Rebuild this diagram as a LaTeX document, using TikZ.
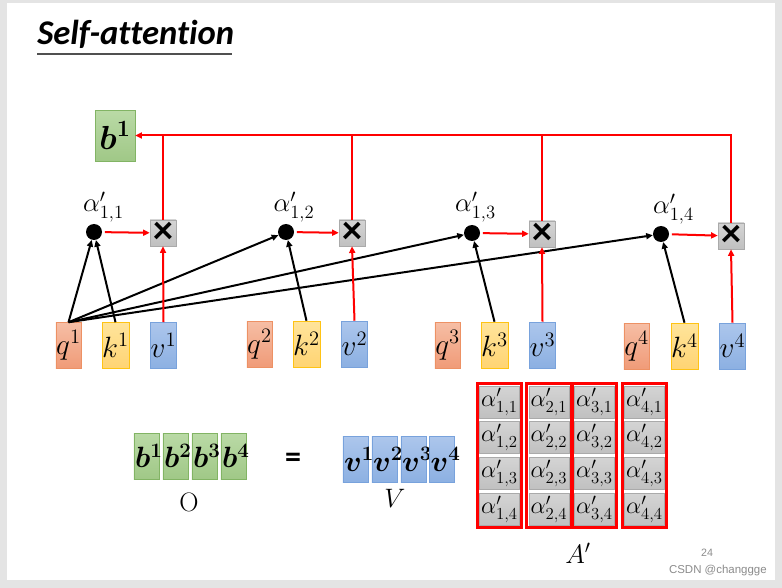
\RequirePackage{fix-cm}
\documentclass[tikz,border=0pt]{standalone}
\usepackage{amsmath}
\usepackage{bm}
\usepackage{fontspec}
\newfontfamily\titlefont[Ligatures=NoCommon]{Carlito}
\newfontfamily\notefont{Liberation Sans}
\usetikzlibrary{arrows.meta,fit}

\definecolor{pagegray}{RGB}{228,228,228}
\definecolor{qtop}{RGB}{246,190,165}
\definecolor{qbot}{RGB}{240,155,120}
\definecolor{qline}{RGB}{237,145,100}
\definecolor{ktop}{RGB}{255,228,155}
\definecolor{kbot}{RGB}{255,212,115}
\definecolor{kline}{RGB}{255,195,20}
\definecolor{vtop}{RGB}{172,198,236}
\definecolor{vbot}{RGB}{140,176,226}
\definecolor{vline}{RGB}{120,162,220}
\definecolor{btop}{RGB}{186,218,166}
\definecolor{bbot}{RGB}{160,200,135}
\definecolor{bline}{RGB}{130,180,100}
\definecolor{multop}{RGB}{212,212,212}
\definecolor{mulbot}{RGB}{192,192,192}
\definecolor{mulline}{RGB}{170,170,170}
\definecolor{noteclr}{RGB}{140,140,140}

\newcommand{\mathsz}{\fontsize{20}{24}\selectfont}
\newcommand{\boxsz}{\fontsize{22}{26}\selectfont}

\tikzset{
  qbox/.style={draw=qline, top color=qtop, bottom color=qbot, minimum width=19pt, minimum height=34.5pt, inner sep=0pt, font=\boxsz},
  kbox/.style={draw=kline, top color=ktop, bottom color=kbot, minimum width=19pt, minimum height=34.5pt, inner sep=0pt, font=\boxsz},
  vbox/.style={draw=vline, top color=vtop, bottom color=vbot, minimum width=19pt, minimum height=34.5pt, inner sep=0pt, font=\boxsz},
  bbox/.style={draw=bline, top color=btop, bottom color=bbot, minimum width=19pt, minimum height=34.5pt, inner sep=0pt, font=\boxsz},
  rowbox/.style={text width=17pt, inner xsep=1pt, align=left},
  mulbox/.style={draw=mulline, top color=multop, bottom color=mulbot, minimum size=19.5pt, inner sep=0pt, font=\titlefont\bfseries\fontsize{30}{30}\selectfont},
  dot/.style={circle, fill=black, minimum size=12pt, inner sep=0pt},
  cellbox/.style={draw=mulline, top color=multop, bottom color=mulbot, minimum width=30pt, minimum height=24pt, inner sep=0pt, font=\fontsize{18}{20}\selectfont},
  colbox/.style={draw=red, line width=2.2pt, inner sep=1.5pt},
  redline/.style={draw=red, line width=1.5pt},
  redarrow/.style={draw=red, line width=1.5pt, -{Triangle[length=5pt,width=4.5pt]}},
  blackarrow/.style={draw=black, line width=1.5pt, -{Triangle[length=5pt,width=4.5pt]}}
}

\begin{document}
\begin{tikzpicture}[x=0.75pt,y=0.75pt,yscale=-1,xscale=1]
\useasboundingbox (0,0) rectangle (782,588);

% slide
\fill[pagegray] (0,0) rectangle (782,588);
\fill[white] (7,3) rectangle (775,580);

% title
\node (title) at (37,45) [anchor=base west, inner sep=0pt, font=\titlefont\bfseries\itshape\fontsize{26}{30}\selectfont] {Self-attention};
\draw [line width=1.1pt, color={rgb,255:red,80;green,80;blue,80}] (37,54) -- (232,54);

% output
\node (b1) at (115,135.5) [bbox, minimum width=30pt, minimum height=38pt, font=\fontsize{25}{28}\selectfont] {$\bm{b}^{\bm{1}}$};

% weighted sum
\node (m1) at (163,233) [mulbox] {×};
\node (m2) at (352,233) [mulbox] {×};
\node (m3) at (542,234) [mulbox] {×};
\node (m4) at (731,236) [mulbox] {×};

\node (d1) at (94,232) [dot] {};
\node (d2) at (286,232) [dot] {};
\node (d3) at (472,233) [dot] {};
\node (d4) at (661,234) [dot] {};

\node (a1) at (103.5,207) [font=\mathsz] {$\alpha'_{1,1}$};
\node (a2) at (294,207) [font=\mathsz] {$\alpha'_{1,2}$};
\node (a3) at (475.5,207) [font=\mathsz] {$\alpha'_{1,3}$};
\node (a4) at (673.5,209) [font=\mathsz] {$\alpha'_{1,4}$};

% q k v
\node (q1) at (68.5,345.5) [qbox] {$q^1$};
\node (k1) at (115.5,345.5) [kbox] {$k^1$};
\node (v1) at (163.5,345.5) [vbox] {$v^1$};
\node (q2) at (259.5,344) [qbox] {$q^2$};
\node (k2) at (306.5,344) [kbox] {$k^2$};
\node (v2) at (354.5,344) [vbox] {$v^2$};
\node (q3) at (447.5,345) [qbox] {$q^3$};
\node (k3) at (494.5,345) [kbox] {$k^3$};
\node (v3) at (542.5,345) [vbox] {$v^3$};
\node (q4) at (636.5,346) [qbox] {$q^4$};
\node (k4) at (684.5,346) [kbox] {$k^4$};
\node (v4) at (732.5,346) [vbox] {$v^4$};

% attention
\draw [blackarrow] (q1.north) -- (d1);
\draw [blackarrow] (q1.north) -- (d2);
\draw [blackarrow] (q1.north) -- (d3);
\draw [blackarrow] (q1.north) -- (d4);
\draw [blackarrow] (k1.north) -- (d1);
\draw [blackarrow] (k2.north) -- (d2);
\draw [blackarrow] (k3.north) -- (d3);
\draw [blackarrow] (k4.north) -- (d4);

\draw [redarrow, shorten <=2pt] (d1) -- (m1);
\draw [redarrow, shorten <=2pt] (d2) -- (m2);
\draw [redarrow, shorten <=2pt] (d3) -- (m3);
\draw [redarrow, shorten <=2pt] (d4) -- (m4);
\draw [redarrow] (v1.north) -- (m1.south);
\draw [redarrow] (v2.north) -- (m2.south);
\draw [redarrow] (v3.north) -- (m3.south);
\draw [redarrow] (v4.north) -- (m4.south);

\draw [redarrow] (m4.north) |- (b1.east);
\draw [redline] (m1.north) -- (m1.north |- b1.east);
\draw [redline] (m2.north) -- (m2.north |- b1.east);
\draw [redline] (m3.north) -- (m3.north |- b1.east);

% O = V A'
\node (o1) at (146.5,456) [bbox, rowbox] {$\bm{b}^{\bm{1}}$};
\node (o2) at (175.5,456) [bbox, rowbox] {$\bm{b}^{\bm{2}}$};
\node (o3) at (204.5,456) [bbox, rowbox] {$\bm{b}^{\bm{3}}$};
\node (o4) at (233.5,456) [bbox, rowbox] {$\bm{b}^{\bm{4}}$};
\node (olabel) at (189,502) [font=\mathsz] {$\mathrm{O}$};

\node (eq) at (293,460) [font=\titlefont\bfseries\fontsize{24}{24}\selectfont] {=};

\node (w1) at (355.5,459.5) [vbox, rowbox] {$\bm{v}^{\bm{1}}$};
\node (w2) at (384.5,459.5) [vbox, rowbox] {$\bm{v}^{\bm{2}}$};
\node (w3) at (413.5,459.5) [vbox, rowbox] {$\bm{v}^{\bm{3}}$};
\node (w4) at (442,459.5) [vbox, rowbox] {$\bm{v}^{\bm{4}}$};
\node (vlabel) at (395,498) [font=\mathsz] {$V$};

\node (c11) at (499.5,402) [cellbox] {$\alpha'_{1,1}$};
\node (c12) at (499.5,437.5) [cellbox] {$\alpha'_{1,2}$};
\node (c13) at (499.5,473.5) [cellbox] {$\alpha'_{1,3}$};
\node (c14) at (499.5,509.5) [cellbox] {$\alpha'_{1,4}$};
\node (c21) at (549,402) [cellbox] {$\alpha'_{2,1}$};
\node (c22) at (549,437.5) [cellbox] {$\alpha'_{2,2}$};
\node (c23) at (549,473.5) [cellbox] {$\alpha'_{2,3}$};
\node (c24) at (549,509.5) [cellbox] {$\alpha'_{2,4}$};
\node (c31) at (594.5,402) [cellbox] {$\alpha'_{3,1}$};
\node (c32) at (594.5,437.5) [cellbox] {$\alpha'_{3,2}$};
\node (c33) at (594.5,473.5) [cellbox] {$\alpha'_{3,3}$};
\node (c34) at (594.5,509.5) [cellbox] {$\alpha'_{3,4}$};
\node (c41) at (644.5,402) [cellbox] {$\alpha'_{4,1}$};
\node (c42) at (644.5,437.5) [cellbox] {$\alpha'_{4,2}$};
\node (c43) at (644.5,473.5) [cellbox] {$\alpha'_{4,3}$};
\node (c44) at (644.5,509.5) [cellbox] {$\alpha'_{4,4}$};
\node (col1) [colbox, fit=(c11)(c14)] {};
\node (col2) [colbox, fit=(c21)(c24)] {};
\node (col3) [colbox, fit=(c31)(c34)] {};
\node (col4) [colbox, fit=(c41)(c44)] {};
\node (alabel) at (578,553) [font=\mathsz] {$A'$};

% footer
\node (pageno) at (707,553) [font=\notefont\fontsize{8}{10}\selectfont, text=noteclr] {24};
\node (mark) at (767,571) [anchor=east, inner sep=0pt, font=\notefont\fontsize{8.6}{10}\selectfont, text=noteclr] {CSDN @changgge};
\end{tikzpicture}
\end{document}
